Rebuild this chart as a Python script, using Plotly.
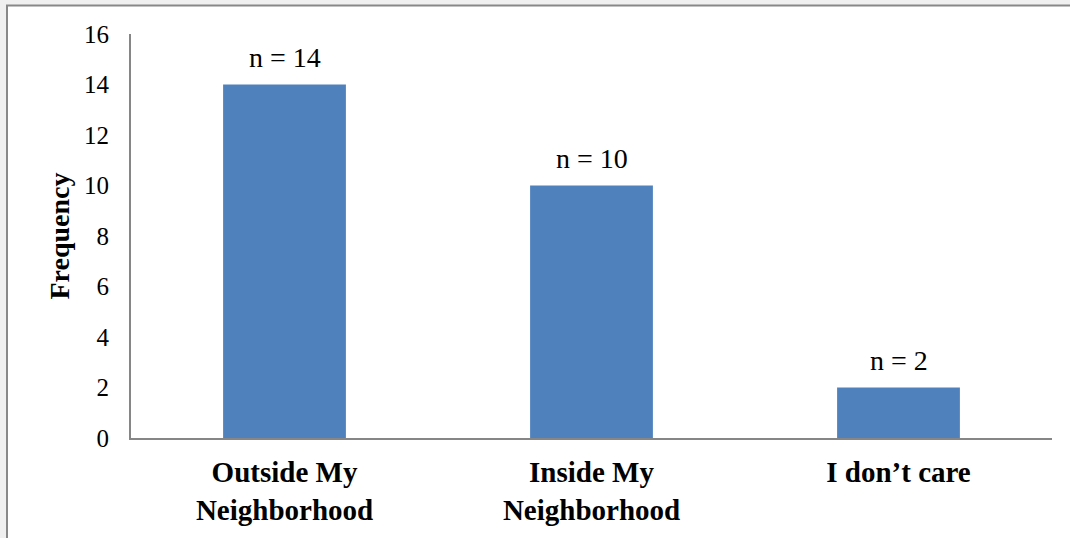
import plotly.graph_objects as go

# Survey responses: preferred location
categories = ["Outside My<br>Neighborhood", "Inside My<br>Neighborhood", "I don\u2019t care"]
frequency = [14, 10, 2]
y_ticks = [0, 2, 4, 6, 8, 10, 12, 14, 16]

W, H = 1070, 538
M_L, M_R, M_T, M_B = 131, 18, 34, 100
PW, PH = W - M_L - M_R, H - M_T - M_B

def px_to_paper_x(px):
    return (px - M_L) / PW

def px_to_paper_y(py):
    return (H - M_B - py) / PH

FONT = "Liberation Serif"
BAR = "#4F81BD"
AXIS = "#868686"

fig = go.Figure()
fig.add_trace(go.Bar(
    x=categories,
    y=frequency,
    marker=dict(color=BAR, line=dict(width=0)),
    hoverinfo="skip",
))

# "n = ..." labels above each bar
for c, v in zip(categories, frequency):
    fig.add_annotation(
        x=c, y=v, xref="x", yref="y",
        text=f"n = {v}",
        showarrow=False,
        yanchor="bottom",
        yshift=10,
        font=dict(family=FONT, size=28, color="black"),
    )

# Chart frame: light grey surround with a grey edge on the left and top
fig.add_shape(
    type="rect", xref="paper", yref="paper", layer="below",
    x0=px_to_paper_x(7), x1=px_to_paper_x(W + 10),
    y0=px_to_paper_y(H + 10), y1=px_to_paper_y(5.5),
    fillcolor="white", line=dict(color="#888888", width=2),
)

fig.update_layout(
    width=W, height=H,
    margin=dict(l=M_L, r=M_R, t=M_T, b=M_B, autoexpand=False),
    paper_bgcolor="#f0f0f0",
    plot_bgcolor="rgba(0,0,0,0)",
    bargap=0.6,
    showlegend=False,
    font=dict(family=FONT, color="black"),
)
fig.update_yaxes(
    range=[0, 16],
    tickvals=y_ticks,
    ticktext=[str(t) for t in y_ticks],
    showgrid=False, zeroline=False,
    showline=True, linecolor=AXIS, linewidth=2,
    ticks="",
    ticklabelstandoff=15,
    automargin=False,
    tickfont=dict(family=FONT, size=25, color="black"),
    title=dict(text="<b>Frequency</b>", font=dict(family=FONT, size=28, color="black"), standoff=6),
)
fig.update_xaxes(
    showgrid=False, zeroline=False,
    showline=True, linecolor=AXIS, linewidth=2,
    ticks="",
    ticklabelstandoff=7,
    automargin=False,
    tickfont=dict(family=FONT, size=29, color="black", weight="bold"),
)

fig.write_html("out.html")
